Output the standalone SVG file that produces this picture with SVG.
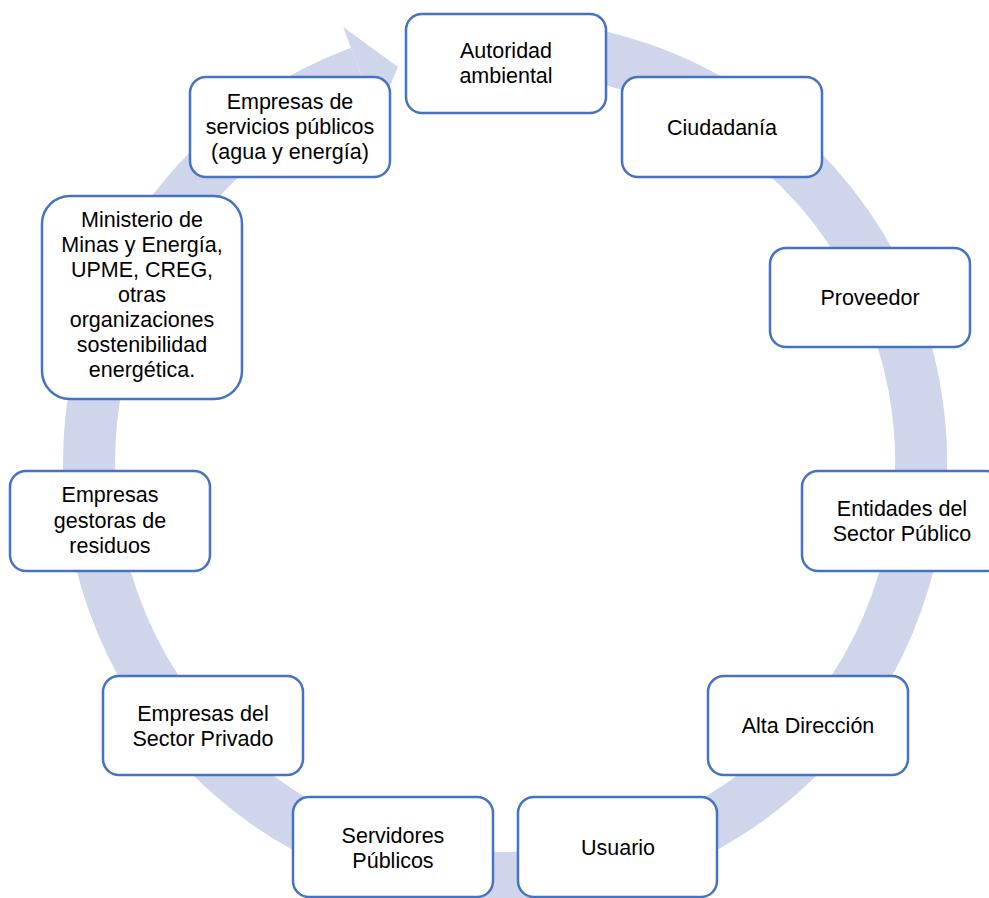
<svg xmlns="http://www.w3.org/2000/svg" width="989" height="898" viewBox="0 0 989 898">
<style>
.box{fill:#fff;stroke:#4472C4;stroke-width:2.5}
.t{font-family:"Liberation Sans",Arial,sans-serif;font-size:21.5px;fill:#000;text-anchor:middle}
.ring{fill:none;stroke:#CFD5EA;stroke-width:52}
.head{fill:#CFD5EA}
</style>
<rect width="989" height="898" fill="#fff"/>
<g id="connectors">
<path class="ring" d="M432.76,52.32 A416,416 0 1 1 360.0,72.1"/>
<polygon class="head" points="343.2,27.1 398,67 376.7,117.1"/>
</g>
<g id="n1"><rect class="box" x="406" y="14" width="200" height="99" rx="16"/><text class="t" x="506" y="58">Autoridad</text><text class="t" x="506" y="83">ambiental</text></g>
<g id="n2"><rect class="box" x="622" y="77" width="200" height="100" rx="16"/><text class="t" x="722" y="135">Ciudadanía</text></g>
<g id="n3"><rect class="box" x="770" y="248" width="200" height="99" rx="16"/><text class="t" x="870" y="305">Proveedor</text></g>
<g id="n4"><rect class="box" x="802" y="471" width="200" height="100" rx="16"/><text class="t" x="902" y="515.5">Entidades del</text><text class="t" x="902" y="540.5">Sector Público</text></g>
<g id="n5"><rect class="box" x="708" y="676" width="200" height="99" rx="16"/><text class="t" x="808" y="732.5">Alta Dirección</text></g>
<g id="n6"><rect class="box" x="518" y="797" width="199" height="100" rx="16"/><text class="t" x="618" y="855">Usuario</text></g>
<g id="n7"><rect class="box" x="293" y="797" width="200" height="100" rx="16"/><text class="t" x="393" y="843">Servidores</text><text class="t" x="393" y="868">Públicos</text></g>
<g id="n8"><rect class="box" x="103" y="676" width="200" height="99" rx="16"/><text class="t" x="203" y="720.5">Empresas del</text><text class="t" x="203" y="745.5">Sector Privado</text></g>
<g id="n9"><rect class="box" x="10" y="471" width="200" height="100" rx="16"/><text class="t" x="110" y="502">Empresas</text><text class="t" x="110" y="527.5">gestoras de</text><text class="t" x="110" y="553">residuos</text></g>
<g id="n10"><rect class="box" x="42" y="196" width="200" height="203" rx="28"/><text class="t" x="142" y="227">Ministerio de</text><text class="t" x="142" y="252">Minas y Energía,</text><text class="t" x="142" y="277">UPME, CREG,</text><text class="t" x="142" y="302">otras</text><text class="t" x="142" y="327">organizaciones</text><text class="t" x="142" y="352">sostenibilidad</text><text class="t" x="142" y="377">energética.</text></g>
<g id="n11"><rect class="box" x="190" y="77" width="200" height="100" rx="16"/><text class="t" x="290" y="108.5">Empresas de</text><text class="t" x="290" y="134">servicios públicos</text><text class="t" x="290" y="158.5">(agua y energía)</text></g>
</svg>
